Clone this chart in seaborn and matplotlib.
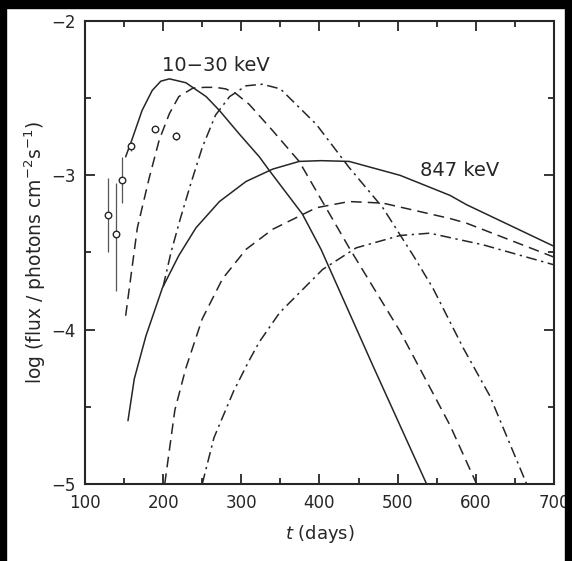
import numpy as np
import pandas as pd
import matplotlib
matplotlib.use('Agg')
import matplotlib.pyplot as plt
from matplotlib.patches import Rectangle
from matplotlib.ticker import MultipleLocator
import seaborn as sns

sns.set_theme(style='ticks')
plt.rcParams['font.family'] = ['DejaVu Sans']
plt.rcParams['mathtext.fontset'] = 'dejavusans'
plt.rcParams['axes.unicode_minus'] = True

INK = '#262626'

# 10-30 keV curves
t_hard_solid = [152, 160, 173, 186, 197, 208, 229, 255, 272, 297, 323, 336, 378, 402, 468, 537]
f_hard_solid = [-2.88, -2.77, -2.58, -2.45, -2.39, -2.375, -2.40, -2.49, -2.58, -2.73, -2.88, -2.97,
                -3.25, -3.48, -4.23, -5.0]
t_hard_dash = [152, 167, 182, 195, 208, 220, 238, 253, 267, 280, 293, 310, 340, 374, 438, 503, 567, 601]
f_hard_dash = [-3.91, -3.34, -3.02, -2.77, -2.60, -2.49, -2.435, -2.43, -2.43, -2.44, -2.47, -2.54,
               -2.71, -2.91, -3.47, -4.01, -4.62, -5.0]
t_hard_dd = [200, 210, 222, 235, 250, 267, 285, 306, 327, 350, 396, 438, 481, 520, 545, 571, 584, 618, 665]
f_hard_dd = [-3.72, -3.50, -3.28, -3.06, -2.82, -2.61, -2.49, -2.42, -2.41, -2.44, -2.67, -2.95,
             -3.21, -3.52, -3.73, -3.99, -4.12, -4.43, -5.0]

# 847 keV curves
t_line_solid = [155, 163, 178, 199, 220, 242, 272, 306, 340, 374, 402, 438, 503, 567, 588, 700]
f_line_solid = [-4.59, -4.32, -4.04, -3.73, -3.52, -3.34, -3.17, -3.04, -2.96, -2.91, -2.905, -2.91,
                -3.00, -3.13, -3.19, -3.46]
t_line_dash = [202, 215, 229, 250, 276, 306, 340, 396, 438, 481, 524, 567, 588, 700]
f_line_dash = [-5.0, -4.52, -4.25, -3.93, -3.67, -3.48, -3.35, -3.21, -3.17, -3.18, -3.23, -3.28,
               -3.31, -3.53]
t_line_dd = [250, 265, 290, 310, 323, 349, 404, 447, 503, 541, 609, 700]
f_line_dd = [-5.0, -4.70, -4.40, -4.20, -4.08, -3.89, -3.61, -3.47, -3.39, -3.375, -3.45, -3.58]

# observed points
obs_t = [130, 139.5, 147, 159, 190, 216]
obs_f = [-3.26, -3.38, -3.03, -2.81, -2.70, -2.745]
obs_lo = [-3.50, -3.75, -3.18, -2.84, -2.72, -2.77]
obs_hi = [-3.02, -3.05, -2.88, -2.78, -2.68, -2.72]

fig = plt.figure(figsize=(5.72, 5.61), dpi=100)
ax = fig.add_axes([0.1486, 0.1373, 0.8199, 0.8253])

dashed = (0, (7, 4))
dashdot = (0, (7, 3, 1.5, 3))
curves = [
    (t_hard_solid, f_hard_solid, '-'),
    (t_hard_dash, f_hard_dash, dashed),
    (t_hard_dd, f_hard_dd, dashdot),
    (t_line_solid, f_line_solid, '-'),
    (t_line_dash, f_line_dash, dashed),
    (t_line_dd, f_line_dd, dashdot),
]
for tt, ff, ls in curves:
    sns.lineplot(x=tt, y=ff, ax=ax, color=INK, linewidth=1.1, linestyle=ls,
                 errorbar=None, sort=False)

# data with error bars
obs = pd.DataFrame({'t': obs_t, 'f': obs_f, 'lo': obs_lo, 'hi': obs_hi})
ax.vlines(obs['t'], obs['lo'], obs['hi'], color='#555555', linewidth=0.9)
sns.scatterplot(data=obs, x='t', y='f', ax=ax, marker='o', s=22,
                facecolor='white', edgecolor=INK, linewidth=1.0, zorder=5)

ax.text(267, -2.29, '10\u221230 keV', fontsize=14, color=INK, ha='center', va='center')
ax.text(579, -2.97, '847 keV', fontsize=14, color=INK, ha='center', va='center')

ax.set_xlim(100, 700)
ax.set_ylim(-5, -2)
ax.xaxis.set_major_locator(MultipleLocator(100))
ax.xaxis.set_minor_locator(MultipleLocator(50))
ax.yaxis.set_major_locator(MultipleLocator(1))
ax.yaxis.set_minor_locator(MultipleLocator(0.5))
ax.tick_params(which='both', direction='in', top=True, right=True, colors=INK,
               labelsize=12, width=1.3)
ax.tick_params(which='major', length=7, pad=7)
ax.tick_params(which='minor', length=4)
for sp in ax.spines.values():
    sp.set_visible(True)
    sp.set_linewidth(1.5)
    sp.set_color(INK)

ax.set_xlabel('$t$ (days)', fontsize=13, color=INK, labelpad=8)
ax.set_ylabel('log (flux / photons cm$^{-2}$s$^{-1}$)', fontsize=13.5, color=INK, labelpad=2)

# scanned page border
fig.add_artist(Rectangle((0, 0), 6 / 572, 1, transform=fig.transFigure, color='black'))
fig.add_artist(Rectangle((0, 1 - 8 / 561), 1, 8 / 561, transform=fig.transFigure, color='black'))
fig.add_artist(Rectangle((1 - 7 / 572, 0), 7 / 572, 1, transform=fig.transFigure, color='black'))

fig.savefig('out.png', dpi=100)
